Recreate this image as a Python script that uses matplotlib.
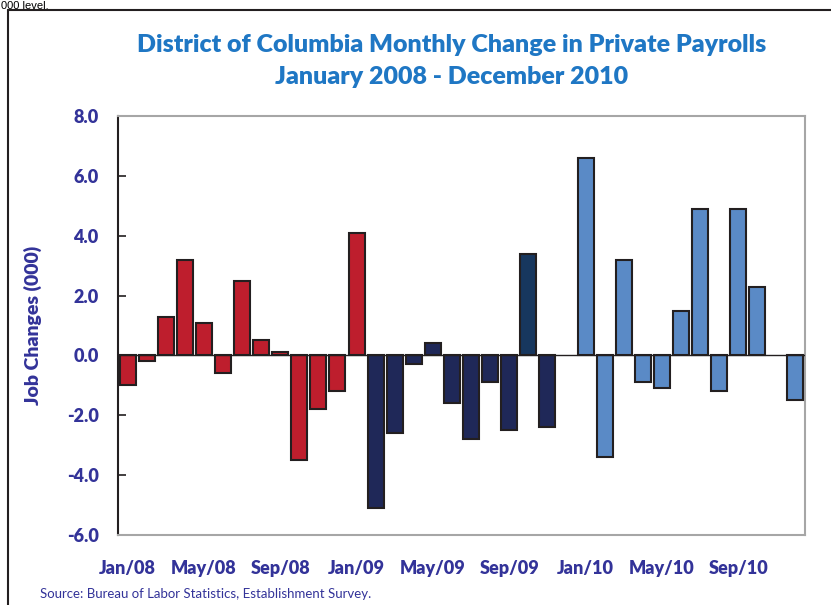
import matplotlib.pyplot as plt
import matplotlib.patches as mpatches

# Monthly change in private payrolls (000), Jan 2008 - Dec 2010
values = [-1.0, -0.2, 1.3, 3.2, 1.1, -0.6, 2.5, 0.5, 0.1, -3.5, -1.8, -1.2,
          4.1, -5.1, -2.6, -0.3, 0.4, -1.6, -2.8, -0.9, -2.5, 3.4, -2.4, 0.0,
          6.6, -3.4, 3.2, -0.9, -1.1, 1.5, 4.9, -1.2, 4.9, 2.3, 0.0, -1.5]
# colour group of each bar
groups = ['r'] * 13 + ['n'] * 8 + ['t', 'n'] + ['b'] * 13
tick_labels = ["Jan/08", "May/08", "Sep/08", "Jan/09", "May/09",
               "Sep/09", "Jan/10", "May/10", "Sep/10"]
yticks = [-6.0, -4.0, -2.0, 0.0, 2.0, 4.0, 6.0, 8.0]

group_colors = {'r': '#be1e2d', 'n': '#1f2858', 't': '#17375e', 'b': '#5a8ac6'}
label_color = '#333399'
title_color = '#1f77c4'
bold = 'heavy'

fig = plt.figure(figsize=(8.31, 6.05), dpi=100)
ax = fig.add_axes([118 / 831, 1 - 535 / 605, 687 / 831, 419 / 605])

# months with no change get no bar
idx = [i for i, v in enumerate(values) if v != 0]
ax.bar(idx, [values[i] for i in idx], width=0.84,
       color=[group_colors[groups[i]] for i in idx],
       edgecolor='#231f20', linewidth=1.5, zorder=3)
ax.axhline(0, color='#231f20', linewidth=1.0, zorder=4)

ax.set_xlim(-0.5, 35.5)
ax.set_ylim(-6, 8)
ax.set_yticks(yticks)
ax.set_yticklabels(["%.1f" % v for v in yticks], fontsize=13,
                   fontweight=bold, color=label_color, family='Lato')
ax.set_xticks(range(0, 36, 4))
ax.set_xticklabels(tick_labels, fontsize=13, fontweight=bold,
                   color=label_color, family='Lato')
ax.tick_params(axis='x', length=0, pad=18)
ax.tick_params(axis='y', direction='in', length=6, width=1.2, color='#231f20', pad=14)

for side in ['top', 'right', 'bottom']:
    ax.spines[side].set_color('#a6a6a6')
    ax.spines[side].set_linewidth(1.5)
ax.spines['left'].set_color('#231f20')
ax.spines['left'].set_linewidth(1.5)

ax.set_ylabel("Job Changes (000)", fontsize=14, fontweight=bold,
              color=label_color, family='Lato', labelpad=18)

fig.text(452 / 831, 1 - 45 / 605, "District of Columbia Monthly Change in Private Payrolls",
         ha='center', va='center', fontsize=18, fontweight=bold,
         color=title_color, family='Lato')
fig.text(452 / 831, 1 - 77 / 605, "January 2008 - December 2010",
         ha='center', va='center', fontsize=18, fontweight=bold,
         color=title_color, family='Lato')

fig.text(40 / 831, 1 - 594 / 605, "Source: Bureau of Labor Statistics, Establishment Survey.",
         ha='left', va='center', fontsize=9.5, color=label_color, family='Lato')

# text of the surrounding page, shown at the top edge
fig.text(1 / 831, 1 - 1 / 605, "000 level.", ha='left', va='top',
         fontsize=8, color='black', family='Liberation Sans')

# outer frame of the chart
frame = mpatches.Rectangle((8 / 831, -0.05), 1.0, 1 - 10 / 605 + 0.05,
                           transform=fig.transFigure, fill=False,
                           edgecolor='#231f20', linewidth=1.5)
fig.patches.append(frame)

fig.savefig("out.png", dpi=100)
